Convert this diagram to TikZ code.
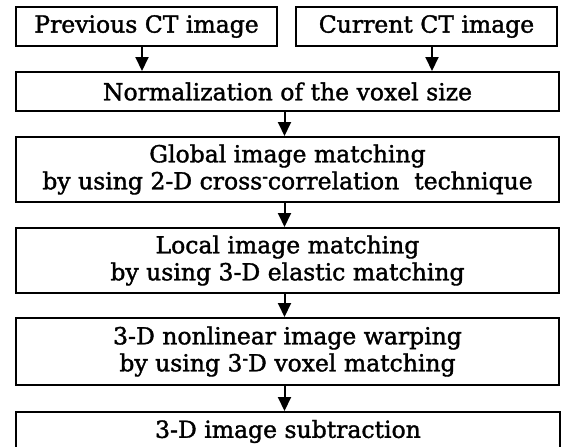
\documentclass[tikz,border=0pt]{standalone}
\usepackage{fontspec}
\setmainfont{DejaVu Serif}[FakeBold=1.5]
\usetikzlibrary{arrows.meta}
\newcommand{\rh}{\raisebox{0.22em}{\scalebox{0.7}[1]{-}}}
\begin{document}
\begin{tikzpicture}[x=1pt,y=-1pt,
  box/.style={draw=black,line width=2pt,inner sep=0pt,align=center,
    font=\fontsize{23.5}{27}\selectfont},
  arr/.style={line width=2pt,-{Triangle[length=14pt,width=13pt]}}]
\clip (0,0) rectangle (565,447);
\useasboundingbox (0,0) rectangle (565,447);
\fill[white] (0,0) rectangle (565,447);
\node[box,minimum width=261pt,minimum height=39pt] (prev) at (146.5,26.5) {Previous CT image};
\node[box,minimum width=261pt,minimum height=39pt] (curr) at (426.5,26.5) {Current CT image};
\node[box,minimum width=543pt,minimum height=39pt] (norm) at (287.5,91.5) {Normalization of the voxel size};
\node[box,minimum width=543pt,minimum height=65pt] (glob) at (287.5,169.5) {Global image matching\\by using 2-D cross\rh correlation\ \ technique};
\node[box,minimum width=543pt,minimum height=65pt] (loc) at (287.5,260.5) {Local image matching\\by using 3-D elastic matching};
\node[box,minimum width=543pt,minimum height=67pt] (warp) at (287.5,351.5) {3-D nonlinear image warping\\by using 3\rh D voxel matching};
\node[box,minimum width=544pt,minimum height=39pt] (sub) at (288,431.5) {3-D image subtraction};
\draw[arr] ([xshift=-4.5pt]prev.south) -- ([xshift=-4.5pt]prev.south |- norm.north);
\draw[arr] ([xshift=5.5pt]curr.south) -- ([xshift=5.5pt]curr.south |- norm.north);
\draw[arr] ([xshift=-3pt]norm.south) -- ([xshift=-3pt]glob.north);
\draw[arr] ([xshift=-3pt]glob.south) -- ([xshift=-3pt]loc.north);
\draw[arr] ([xshift=-3pt]loc.south) -- ([xshift=-3pt]warp.north);
\draw[arr] ([xshift=-3pt]warp.south) -- ([xshift=-3.5pt]sub.north);
\end{tikzpicture}
\end{document}
